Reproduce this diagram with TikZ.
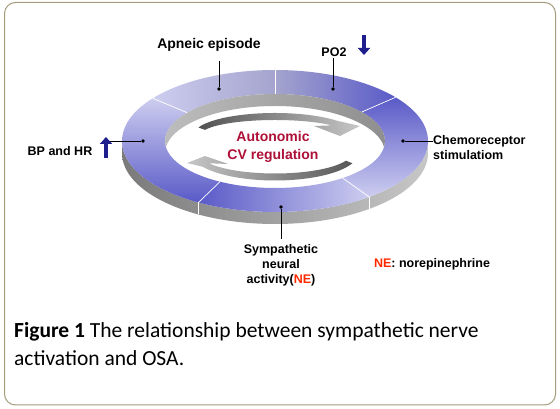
\documentclass[tikz,border=0pt]{standalone}
\usepackage{fontspec}
\usepackage{xcolor}
\usepackage{tikz}
\usetikzlibrary{arrows.meta,calc}
\newfontfamily\arialf{Liberation Sans}
\newfontfamily\calibf{Carlito}
\definecolor{ringdk}{HTML}{5A5AC8}
\definecolor{ringlt}{HTML}{CDCDF0}
\definecolor{ringgr}{HTML}{A4A4CE}
\definecolor{navyarr}{HTML}{1E1E8C}
\definecolor{autored}{HTML}{AE1038}
\definecolor{nered}{HTML}{FF2A00}
\definecolor{framec}{HTML}{A59D7E}
\newcommand{\ringseg}[3]{%
  \path[#3] (#1:153pt and 71pt) arc[start angle=#1, end angle=#2, x radius=153pt, y radius=71pt]
    -- (#2:110pt and 47pt) arc[start angle=#2, end angle=#1, x radius=110pt, y radius=47pt] -- cycle;}

\begin{document}
\begin{tikzpicture}[x=1pt, y=1pt,
	lbl/.style={font=\arialf\bfseries\fontsize{12.5}{15}\selectfont, inner sep=0pt, align=center},
	dot/.style={circle, fill=black, inner sep=0pt, minimum size=3.8pt},
	leader/.style={black, line width=0.6pt},
	updown/.style={navyarr, line width=3.8pt, -{Triangle[width=12pt, length=7pt]}}
	]
	\useasboundingbox (0,0) rectangle (560,409);
	\fill[white] (0,0) rectangle (560,409);
	\draw[framec, line width=1pt, rounded corners=11pt] (4.5,4) rectangle (555.5,406.5);

	\begin{scope}[shift={(275,268)}]
		\path[left color=black!52, right color=black!22] (180:153pt and 71pt) arc[start angle=180, end angle=360, x radius=153pt, y radius=71pt]
			-- ++(0,-12) arc[start angle=360, end angle=180, x radius=153pt, y radius=71pt] -- cycle;
		\ringseg{143}{240}{top color=ringlt, bottom color=ringdk}
		\ringseg{90}{143}{left color=ringlt, right color=ringgr}
		\ringseg{38}{90}{left color=ringgr, right color=ringdk}
		\ringseg{-52}{38}{top color=ringdk, bottom color=ringlt}
		\ringseg{-120}{-52}{left color=ringdk, right color=ringlt}
		\begin{scope}
			\clip (0,0) ellipse[x radius=110pt, y radius=47pt];
			\path[left color=black!26, right color=black!44] (180:110pt and 47pt) arc[start angle=180, end angle=0, x radius=110pt, y radius=47pt]
				-- ++(0,-12) arc[start angle=0, end angle=180, x radius=110pt, y radius=47pt] -- cycle;
		\end{scope}
		\foreach \a in {90,38,-52,-120,143}
			\draw[white, line width=0.7pt] (\a:153pt and 71pt) -- (\a:110pt and 47pt);
		\foreach \a in {-52,-120}
			\draw[white, line width=0.7pt] (\a:153pt and 71pt) -- ++(0,-12);
		\path[left color=black!68, right color=black!22] ($(0,6)+(160:81.5pt and 22pt)$) arc[start angle=160, end angle=40, x radius=81.5pt, y radius=22pt]
			-- (85,15) -- (65,5) -- (39,15) -- ($(0,6)+(40:74.5pt and 15pt)$) arc[start angle=40, end angle=160, x radius=74.5pt, y radius=15pt] -- cycle;
		\path[left color=black!22, right color=black!66] ($(0,-12)+(-22:83.5pt and 27.5pt)$) arc[start angle=-22, end angle=-150, x radius=83.5pt, y radius=27.5pt]
			-- (-88,-22) -- (-70,-15) -- (-47,-23) -- ($(0,-12)+(-150:76.5pt and 20.5pt)$) arc[start angle=-150, end angle=-22, x radius=76.5pt, y radius=20.5pt] -- cycle;
	\end{scope}

	\node[lbl, font=\arialf\bfseries\fontsize{14}{18}\selectfont, text=autored] (auto) at (273,262) {Autonomic\\CV regulation};

	\node[dot] (dap) at (219,320) {};
	\node[dot] (dpo) at (333,320) {};
	\node[dot] (dbp) at (143,268) {};
	\node[dot] (dch) at (403,268) {};
	\node[dot] (dsy) at (281,202) {};

	\node[lbl, font=\arialf\bfseries\fontsize{14}{17}\selectfont] (ap) at (209,364) {Apneic episode};
	\node[lbl] (po) at (334,357) {PO2};
	\node[lbl] (bp) at (60,258) {BP and HR};
	\node[lbl, anchor=west, align=left] (ch) at (433,261) {Chemoreceptor\\stimulatiom};
	\node[lbl, anchor=north] (sy) at (281,165) {Sympathetic\\neural\\activity(\textcolor{nered}{NE})};
	\node[lbl] (ne) at (432,145) {\textcolor{nered}{NE}: norepinephrine};
	\coordinate (bpa) at (106,251);
	\coordinate (poa) at (364,374);

	\draw[leader] (dap) -- ($(dap |- ap.south)+(0,-9)$);
	\draw[leader] (dpo) -- ($(dpo |- po.south)+(0,-1)$);
	\draw[leader] (dbp) -- (dbp -| bpa);
	\draw[leader] (dch) -- (dch -| ch.west);
	\draw[leader] (dsy) -- ($(sy.north)+(0,5)$);
	\draw[updown] (bpa) -- ++(0,21);
	\draw[updown] (poa) -- ++(0,-20);

	\node[anchor=west, align=left, inner sep=0pt, font=\calibf\fontsize{21.5}{28}\selectfont] (cap) at (14,65) {\textbf{Figure 1} The relationship between sympathetic nerve\\activation and OSA.};
\end{tikzpicture}
\end{document}
